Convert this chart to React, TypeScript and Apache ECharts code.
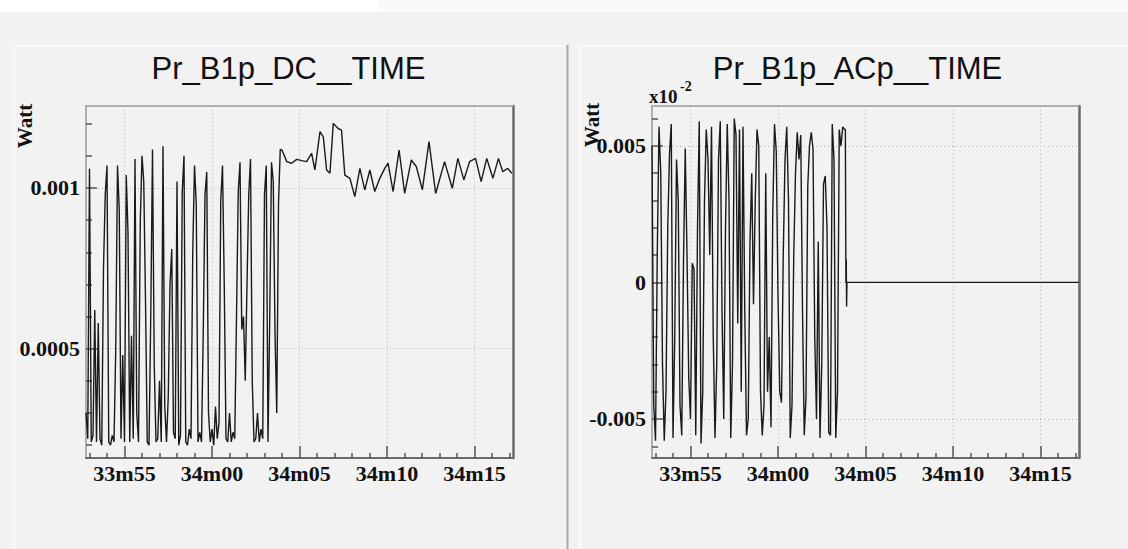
import React, { useEffect, useRef } from "react";
import * as echarts from "echarts";

// x values are seconds after 33m00
const X_MIN = 52.8;
const X_MAX = 77.2;
const timeTicks = [55, 60, 65, 70, 75];
const timeMinorTicks = [53, 54, 56, 57, 58, 59, 61, 62, 63, 64, 66, 67, 68, 69, 71, 72, 73, 74, 76, 77];

// ---- Pr_B1p_DC__TIME ----
const dcTitle = "Pr_B1p_DC__TIME";
const dcBurstStart = 52.8;
const burstStep = 0.1;
const dcBurstValues = [
  0.0003, 0.00022, 0.00106, 0.00021, 0.00023, 0.00062, 0.00021, 0.00058, 0.00022, 0.0002,
  0.00075, 0.00098, 0.00107, 0.00021, 0.0002, 0.00023, 0.00021, 0.0005, 0.00107, 0.00093,
  0.00022, 0.00048, 0.00021, 0.00104, 0.00086, 0.00021, 0.00054, 0.00022, 0.00109, 0.0003,
  0.00021, 0.00089, 0.0011, 0.00102, 0.00065, 0.00021, 0.0002, 0.0006, 0.00112, 0.00045,
  0.00021, 0.00022, 0.0004, 0.00021, 0.00113, 0.00032, 0.00021, 0.00035, 0.0007, 0.00081,
  0.00024, 0.00022, 0.00102, 0.0002, 0.00023, 0.00099, 0.0011, 0.00021, 0.0002, 0.00025,
  0.00022, 0.0008, 0.00107, 0.00095, 0.00021, 0.00024, 0.00021, 0.00055, 0.00098, 0.00105,
  0.0003, 0.00021, 0.00025, 0.0002, 0.00032, 0.00022, 0.00027, 0.00096, 0.00107, 0.0007,
  0.00022, 0.00021, 0.0003, 0.00021, 0.00024, 0.00022, 0.0006, 0.00099, 0.00108, 0.00056,
  0.0006, 0.0004, 0.0007, 0.00098, 0.00109, 0.0004, 0.00021, 0.00022, 0.0003, 0.00021,
  0.00025, 0.00022, 0.00098, 0.00107, 0.00021, 0.0006, 0.00108, 0.00102, 0.00055, 0.0003,
  0.00095, 0.00112,
];
const dcSteadyTimes = [
  64.0, 64.27, 64.55, 64.84, 65.12, 65.41, 65.69, 65.88, 66.17, 66.36, 66.55, 66.74, 66.93,
  67.21, 67.4, 67.59, 67.88, 68.16, 68.45, 68.73, 69.02, 69.3, 69.59, 69.87, 70.06, 70.35,
  70.69, 71.01, 71.39, 71.68, 72.02, 72.4, 72.78, 73.29, 73.73, 74.05, 74.39, 74.72, 75.06,
  75.38, 75.7, 76.05, 76.37, 76.61, 76.9, 77.13,
];
const dcSteadyValues = [
  0.001118, 0.001082, 0.001077, 0.001089, 0.001085, 0.001082, 0.001108, 0.001056, 0.001175,
  0.001159, 0.001056, 0.001046, 0.001201, 0.001185, 0.00118, 0.00104, 0.00103, 0.000973,
  0.001061, 0.000994, 0.001056, 0.000989, 0.00103, 0.001061, 0.001077, 0.000989, 0.001118,
  0.000983, 0.001087, 0.001066, 0.000994, 0.001144, 0.000983, 0.001082, 0.000999, 0.001092,
  0.001025, 0.001082, 0.001092, 0.00102, 0.001092, 0.00103, 0.001092, 0.001051, 0.001061,
  0.001046,
];
const dcYMin = 0.00016;
const dcYMax = 0.001255;
const dcTicks = [0.0005, 0.001];
const dcMinorTicks = [0.0002, 0.0003, 0.0004, 0.0006, 0.0007, 0.0008, 0.0009, 0.0011, 0.0012];

// ---- Pr_B1p_ACp__TIME ----
const acTitle = "Pr_B1p_ACp__TIME";
const acBurstStart = 52.8;
const acBurstValues = [
  0.005, -0.0045, -0.0058, 0.001, 0.0057, 0.004, -0.003, -0.0058, -0.004, 0.002,
  0.0047, 0.0058, -0.0057, -0.002, 0.0045, 0.003, -0.0045, -0.0056, 0.0008, 0.0049,
  0.001, -0.0035, -0.005, 0.0007, 0.0005, -0.0056, 0.002, 0.0059, -0.0059, -0.004,
  0.003, 0.0056, 0.0045, 0.001, 0.0057, -0.002, -0.0057, -0.003, 0.0045, 0.0059,
  -0.001, -0.005, 0.002, 0.0058, 0.003, -0.0057, -0.003, 0.006, 0.0054, -0.0015,
  0.0056, -0.004, 0.0057, -0.001, -0.0056, -0.005, 0.0015, 0.004, -0.0008, 0.003,
  0.0056, 0.005, -0.004, -0.0056, -0.0045, 0.004, -0.004, -0.002, -0.0053, 0.0025,
  0.0058, 0.0048, -0.0005, -0.004, -0.0044, 0.001, 0.0045, 0.0057, 0.003, -0.0057,
  -0.0045, 0.001, 0.004, 0.0055, 0.0045, 0.0054, -0.001, -0.0056, -0.0042, 0.0035,
  0.005, 0.0055, 0.0049, -0.002, -0.005, 0.0015, -0.0057, -0.003, 0.0036, 0.0039,
  0.002, -0.0055, -0.0056, 0.0058, 0.0045, -0.0057, -0.004, 0.0056, 0.005, 0.0057,
  0.0056,
];
const acTailTimes = [63.85, 63.88, 63.9, 63.92, 63.94, 77.2];
const acTailValues = [0.0056, 0, 0.00085, -0.00088, 0, 0];
const acYMin = -0.00643;
const acYMax = 0.00646;
const acTicks = [-0.005, 0, 0.005];
const acMinorTicks = [-0.006, -0.004, -0.003, -0.002, -0.001, 0.001, 0.002, 0.003, 0.004, 0.006];

const yAxisName = "Watt";
const acExponentBase = "x10";
const acExponent = "-2";

const SERIF = "'Liberation Serif', 'Times New Roman', serif";
const SANS = "'Liberation Sans', Arial, sans-serif";

function fmtTime(v: number): string {
  const m = 33 + Math.floor(v / 60);
  const s = Math.round(v - 60 * Math.floor(v / 60));
  return `${m}m${String(s).padStart(2, "0")}`;
}

function burstPairs(start: number, values: number[]): number[][] {
  return values.map((v, i) => [Math.round((start + burstStep * i) * 1000) / 1000, v]);
}
function zipPairs(ts: number[], vs: number[]): number[][] {
  return ts.map((t, i) => [t, vs[i]]);
}

const tickLine = { color: "#555", width: 1.5 };
const dotted = { show: true, lineStyle: { color: "#b0b0b0", width: 1, type: [1, 3] } };
const labelFont = { fontFamily: SERIF, fontWeight: "bold", fontSize: 22, color: "#111" };

function xAxes(gridIndex: number) {
  return [
    {
      gridIndex, type: "value", min: X_MIN, max: X_MAX, position: "bottom",
      axisLine: { show: true, onZero: false, lineStyle: { color: "#6a6a6a", width: 2 } },
      axisTick: { show: true, inside: true, length: 12, customValues: timeTicks, lineStyle: tickLine },
      axisLabel: { show: true, customValues: timeTicks, formatter: fmtTime, margin: 4, ...labelFont },
      splitLine: dotted,
      minorTick: { show: false },
    },
    {
      gridIndex, type: "value", min: X_MIN, max: X_MAX, position: "bottom",
      axisLine: { show: false, onZero: false },
      axisTick: { show: true, inside: true, length: 5, customValues: timeMinorTicks, lineStyle: tickLine },
      axisLabel: { show: false },
      splitLine: { show: false },
    },
    {
      gridIndex, type: "value", min: X_MIN, max: X_MAX, position: "top",
      axisLine: { show: true, onZero: false, lineStyle: { color: "#9a9a9a", width: 1.5 } },
      axisTick: { show: false },
      axisLabel: { show: false },
      splitLine: { show: false },
    },
  ];
}

function yAxes(gridIndex: number, min: number, max: number, ticks: number[], minor: number[]) {
  return [
    {
      gridIndex, type: "value", min, max, position: "left",
      axisLine: { show: true, onZero: false, lineStyle: { color: "#9a9a9a", width: 1.5 } },
      axisTick: { show: true, inside: true, length: 11, customValues: ticks, lineStyle: tickLine },
      axisLabel: { show: true, customValues: ticks, formatter: (v: number) => String(v), margin: 6, ...labelFont },
      splitLine: dotted,
      minorTick: { show: false },
    },
    {
      gridIndex, type: "value", min, max, position: "left",
      axisLine: { show: false, onZero: false },
      axisTick: { show: true, inside: true, length: 6, customValues: minor, lineStyle: tickLine },
      axisLabel: { show: false },
      splitLine: { show: false },
    },
    {
      gridIndex, type: "value", min, max, position: "right",
      axisLine: { show: true, onZero: false, lineStyle: { color: "#6a6a6a", width: 2.5 } },
      axisTick: { show: false },
      axisLabel: { show: false },
      splitLine: { show: false },
    },
  ];
}

export default function App() {
  const ref = useRef<HTMLDivElement>(null);

  useEffect(() => {
    document.body.style.margin = "0";
    if (!ref.current) return;
    const chart = echarts.init(ref.current, undefined, { renderer: "svg" });

    const dcData = [...burstPairs(dcBurstStart, dcBurstValues), ...zipPairs(dcSteadyTimes, dcSteadyValues)];
    const acData = [...burstPairs(acBurstStart, acBurstValues), ...zipPairs(acTailTimes, acTailValues)];

    const option: any = {
      animation: false,
      backgroundColor: "#f2f2f2",
      grid: [
        { left: 86, top: 106, width: 427, height: 352, show: false },
        { left: 652, top: 106, width: 427, height: 352, show: false },
      ],
      xAxis: [...xAxes(0), ...xAxes(1)],
      yAxis: [
        ...yAxes(0, dcYMin, dcYMax, dcTicks, dcMinorTicks),
        ...yAxes(1, acYMin, acYMax, acTicks, acMinorTicks),
      ],
      series: [
        {
          type: "line", xAxisIndex: 0, yAxisIndex: 0, data: dcData, showSymbol: false,
          lineStyle: { color: "#1a1a1a", width: 1.4 }, silent: true, clip: true,
        },
        {
          type: "line", xAxisIndex: 3, yAxisIndex: 3, data: acData, showSymbol: false,
          lineStyle: { color: "#1a1a1a", width: 1.4 }, silent: true, clip: true,
        },
      ],
      graphic: [
        { type: "rect", silent: true, shape: { x: 0, y: 0, width: 1128, height: 12 }, style: { fill: "#ffffff" } },
        { type: "rect", silent: true, shape: { x: 378, y: 0, width: 750, height: 12 }, style: { fill: "#fafafa" } },
        { type: "line", silent: true, shape: { x1: 14, y1: 46, x2: 565, y2: 46 }, style: { stroke: "#fbfbfb", lineWidth: 1.5 } },
        { type: "line", silent: true, shape: { x1: 14, y1: 46, x2: 14, y2: 549 }, style: { stroke: "#fbfbfb", lineWidth: 1.5 } },
        { type: "line", silent: true, shape: { x1: 580, y1: 46, x2: 1128, y2: 46 }, style: { stroke: "#fbfbfb", lineWidth: 1.5 } },
        { type: "line", silent: true, shape: { x1: 580, y1: 46, x2: 580, y2: 549 }, style: { stroke: "#fbfbfb", lineWidth: 1.5 } },
        { type: "line", silent: true, shape: { x1: 567.5, y1: 45, x2: 567.5, y2: 549 }, style: { stroke: "#a8a8a8", lineWidth: 2 } },
        {
          type: "text", silent: true, x: 288.5, y: 68,
          style: { text: dcTitle, fontFamily: SANS, fontSize: 31, fill: "#111", align: "center", verticalAlign: "middle" },
        },
        {
          type: "text", silent: true, x: 857.5, y: 68,
          style: { text: acTitle, fontFamily: SANS, fontSize: 31, fill: "#111", align: "center", verticalAlign: "middle" },
        },
        {
          type: "text", silent: true, x: 25, y: 126, rotation: Math.PI / 2,
          style: { text: yAxisName, fontFamily: SERIF, fontWeight: "bold", fontSize: 21, fill: "#111", align: "center", verticalAlign: "middle" },
        },
        {
          type: "text", silent: true, x: 592, y: 125, rotation: Math.PI / 2,
          style: { text: yAxisName, fontFamily: SERIF, fontWeight: "bold", fontSize: 21, fill: "#111", align: "center", verticalAlign: "middle" },
        },
        {
          type: "text", silent: true, x: 649, y: 96,
          style: { text: acExponentBase, fontFamily: SERIF, fontWeight: "bold", fontSize: 19, fill: "#111", align: "left", verticalAlign: "middle" },
        },
        {
          type: "text", silent: true, x: 680, y: 86,
          style: { text: acExponent, fontFamily: SERIF, fontWeight: "bold", fontSize: 14, fill: "#111", align: "left", verticalAlign: "middle" },
        },
      ],
    };

    chart.setOption(option);
    return () => chart.dispose();
  }, []);

  return <div ref={ref} style={{ width: 1128, height: 549 }} />;
}
